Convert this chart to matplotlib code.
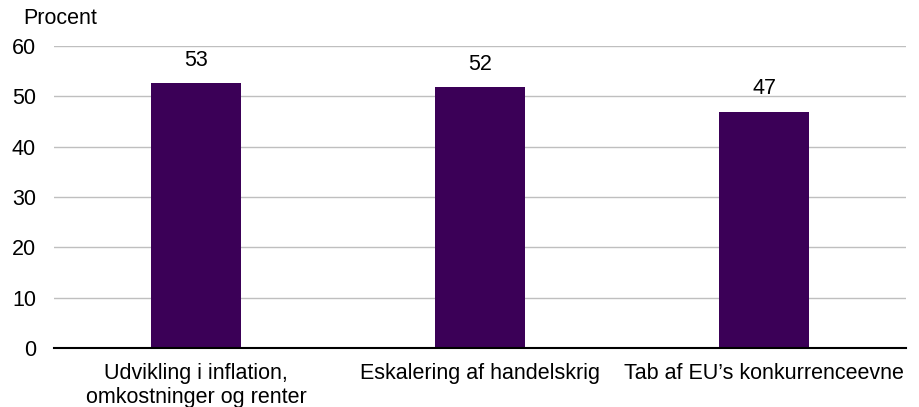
import matplotlib.pyplot as plt
import numpy as np

plt.rcParams['font.family'] = ['Liberation Sans', 'DejaVu Sans']

categories = ['Udvikling i inflation,\nomkostninger og renter',
              'Eskalering af handelskrig',
              'Tab af EU\u2019s konkurrenceevne']
values = [52.6, 51.8, 46.9]
yticks = [0, 10, 20, 30, 40, 50, 60]

fig = plt.figure(figsize=(9.19, 4.07), dpi=100)
ax = fig.add_axes([0.0588, 0.145, 0.9272, 0.742])

x = np.arange(len(categories))
bars = ax.bar(x, values, width=0.317, color='#3b0057', zorder=3)

for b, v in zip(bars, values):
    ax.annotate(f'{v:.0f}', (b.get_x() + b.get_width() / 2, v),
                xytext=(0, 9), textcoords='offset points',
                ha='center', va='bottom', fontsize=15.5)

ax.set_xlim(-0.5, len(categories) - 0.5)
ax.set_ylim(0, 60)
ax.set_yticks(yticks)
ax.set_xticks(x)
ax.set_xticklabels(categories, fontsize=15.5, linespacing=1.2)
ax.tick_params(axis='y', length=0, pad=13, labelsize=15.5)
ax.tick_params(axis='x', length=0, pad=11)

ax.grid(axis='y', color='#bfbfbf', linewidth=1, zorder=0)
for s in ['left', 'right', 'top']:
    ax.spines[s].set_visible(False)
ax.spines['bottom'].set_color('black')
ax.spines['bottom'].set_linewidth(1.5)
ax.spines['bottom'].set_zorder(4)

fig.text(23 / 919, 1 - 18 / 407, 'Procent', fontsize=15.5, ha='left', va='center')

fig.savefig('out.png', dpi=100)
